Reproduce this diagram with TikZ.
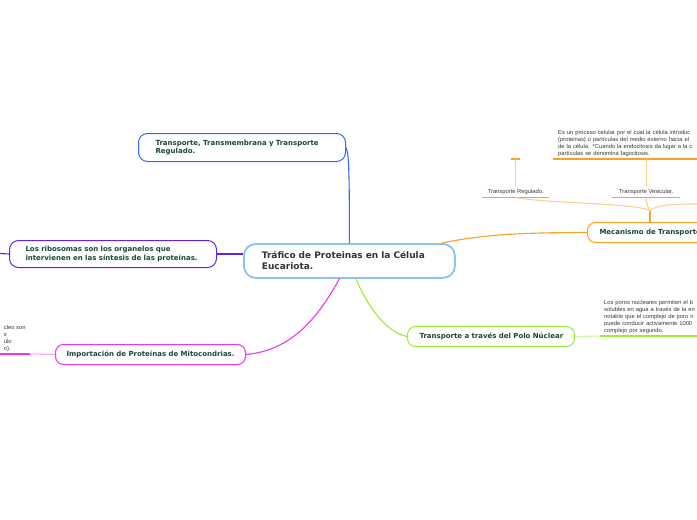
\documentclass[tikz,border=0pt]{standalone}
\usepackage{fontspec}
\setmainfont{DejaVu Sans}
\newfontfamily\smallfont{Liberation Sans}
\usetikzlibrary{calc}
\definecolor{cblue}{RGB}{140,195,232}
\definecolor{tblue}{RGB}{51,102,255}
\definecolor{tpurple}{RGB}{102,34,221}
\definecolor{tmag}{RGB}{238,51,238}
\definecolor{tmaglight}{RGB}{246,160,246}
\definecolor{tgreenb}{RGB}{153,238,51}
\definecolor{tgreenlight}{RGB}{210,245,170}
\definecolor{torange}{RGB}{247,162,36}
\definecolor{torangelight}{RGB}{252,208,145}
\definecolor{tdark}{RGB}{51,51,51}
\definecolor{tgreen}{RGB}{25,72,56}
\definecolor{tgray}{RGB}{55,55,55}
\begin{document}
\begin{tikzpicture}[x=1pt,y=-1pt,
  bnode/.style={draw, rounded corners=9pt, line width=1pt, fill=white, anchor=north west, align=left,
    font=\fontsize{7}{8.4}\selectfont\bfseries, text=tgreen, inner ysep=0pt},
  small/.style={font=\smallfont\fontsize{5.8}{6.8}\selectfont, text=tgray, align=left, inner ysep=2.5pt},
  conn/.style={line width=1.1pt},
  uline/.style={line width=1.6pt},
]
\useasboundingbox (0,0) rectangle (697,520);
\clip (0,0) rectangle (697,520);

% central node
\node[draw=cblue, line width=1.8pt, rounded corners=12pt, fill=white, anchor=north west,
  minimum height=34pt, text width=175pt, inner xsep=18pt, inner ysep=0pt, align=left,
  font=\fontsize{9}{11}\selectfont\bfseries, text=tdark] (center) at (243,243)
  {\mbox{Tráfico de Proteinas en la Célula}\\Eucariota.};

% main topic nodes
\node[bnode, draw=tblue, minimum height=28pt, text width=173pt, inner xsep=17pt] (top) at (138,133)
  {\mbox{Transporte, Transmembrana y Transporte}\\Regulado.};
\node[bnode, draw=tpurple, minimum height=27pt, text width=175pt, inner xsep=16pt] (left) at (9,240)
  {\mbox{Los ribosomas son los organelos que}\\\mbox{intervienen en las síntesis de las proteínas.}};
\node[bnode, draw=tmag, minimum height=20pt, text width=168pt, inner xsep=11pt, rounded corners=8pt] (mito) at (55,344)
  {\mbox{Importación de Proteínas de Mitocondrias.}};
\node[bnode, draw=tgreenb, minimum height=20pt, text width=143pt, inner xsep=12pt, rounded corners=8pt] (nuc) at (407,326)
  {\mbox{Transporte a través del Polo Núclear}};
\node[bnode, draw=torange, minimum height=20pt, text width=200pt, inner xsep=12pt, rounded corners=8pt] (mec) at (587,222)
  {\mbox{Mecanismo de Transporte}};

% connectors from central node
\draw[conn, tblue] (top.east) .. controls +(3,6) and +(0,-70) .. (center.north);
\draw[conn, tpurple] (left.east) -- (left.east -| center.west);
\coordinate (pl) at (0,253.5);
\draw[conn, tpurple] (left.west) -- (pl);
\coordinate (cs1) at ($(center.south)+(-10,0)$);
\draw[conn, tmag] (cs1) .. controls +(-22,40) and +(45,-4) .. (mito.east);
\coordinate (cs2) at ($(center.south)+(6.5,0)$);
\draw[conn, tgreenb] (cs2) .. controls +(10,24) and +(-22,-4) .. (nuc.west);
\coordinate (cn) at ($(center.north east)+(-14,0)$);
\draw[conn, torange] (cn) .. controls +(40,-8) and +(-70,0) .. (mec.west);

% left fragment (magenta)
\node[small, anchor=south west, inner xsep=0pt, minimum width=31pt] (frag) at (-1,354)
  {cleo son\\s\\ulo\\o).};
\draw[uline, tmag] (frag.south west) -- (frag.south east);
\draw[conn, tmaglight] (mito.west) -- (frag.south east);

% nuclear pore text (green)
\node[small, anchor=south west, inner xsep=4pt, text width=200pt] (poros) at (600,336)
  {\mbox{Los poros nucleares permiten el b}\\\mbox{solubles en agua a través de la en}\\\mbox{notable que el complejo de poro n}\\\mbox{puede conducir activamente 1000}\\\mbox{complejo por segundo.}};
\draw[uline, tgreenb] (poros.south west) -- (poros.south east);
\draw[conn, tgreenlight] (nuc.east) -- (poros.south west);

% orange subtree
\coordinate (mectop) at ($(mec.north west)+(63,0)$);
\coordinate (br) at (650,211);
\coordinate (pr) at (697,204);
\draw[conn, torange] (mectop) -- (br);
\node[small, anchor=south west, inner xsep=4pt, minimum width=67pt] (regu) at (482,197.5) {Transporte Regulado.};
\draw[uline, torange] (regu.south west) -- (regu.south east);
\node[small, anchor=south west, inner xsep=4pt, minimum width=68pt] (vesi) at (612,197.5) {Transporte Vesicular.};
\draw[uline, torange] (vesi.south west) -- (vesi.south east);
\draw[conn, torangelight] (br) .. controls +(-10,-8) and +(30,6) .. (regu.south);
\draw[conn, torangelight] (br) .. controls +(-2,-6) and +(0,8) .. (vesi.south);
\draw[conn, torangelight] (br) .. controls +(5,-6) and +(-25,0) .. (pr);

\node[inner sep=0pt, minimum width=9pt, minimum height=0pt, anchor=south] (emp) at (515.5,159) {};
\draw[uline, torange] (emp.south west) -- (emp.south east);
\draw[conn, torangelight] (emp.south) -- (regu.north);

\node[small, anchor=south west, inner xsep=5pt, text width=200pt] (endo) at (553,159)
  {\mbox{Es un proceso celular por el cual la célula introduc}\\\mbox{(proteinas) o partículas del medio externo hacia el}\\\mbox{de la célula. *Cuando la endocitosis da lugar a la c}\\\mbox{partículas se denomina fagocitosis.}};
\draw[uline, torange] (endo.south west) -- (endo.south east);
\draw[conn, torangelight] (vesi.north) -- (vesi.north |- endo.south);
\end{tikzpicture}
\end{document}
